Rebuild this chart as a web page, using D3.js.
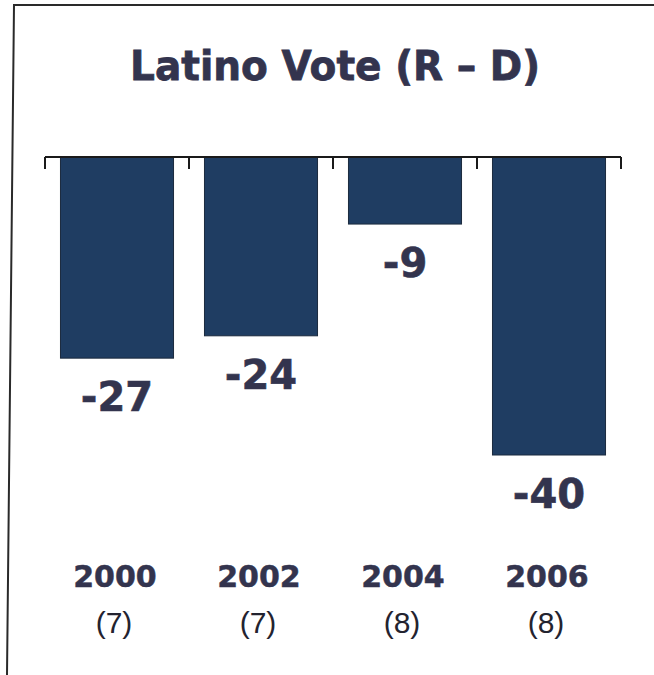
<!DOCTYPE html>
<html>
<head>
<meta charset="utf-8">
<script src="https://cdn.jsdelivr.net/npm/d3@7"></script>
<style>
  html, body { margin: 0; padding: 0; background: #ffffff; }
  svg { display: block; }
</style>
</head>
<body>
<svg id="chart" width="654" height="675"></svg>
<script>
// ---- data ----
const years = ["2000", "2002", "2004", "2006"];
const values = [-27, -24, -9, -40];
const counts = ["(7)", "(7)", "(8)", "(8)"];
const title = "Latino Vote (R \u2013 D)";

const W = 654, H = 675;
const svg = d3.select("#chart");
const barColor = "#1f3d62";
const textColor = "#33344e";

// frame (scanned page border)
svg.append("path")
  .attr("d", "M654,5 L14,5 L7,675")
  .attr("fill", "none")
  .attr("stroke", "#2a2a2a")
  .attr("stroke-width", 2);

// scales
const x = d3.scaleBand().domain(years).range([45, 621]).paddingInner(0.215).paddingOuter(0.1075);
const y = d3.scaleLinear().domain([0, -40]).range([157, 455]);

// title
svg.append("text")
  .attr("x", 335).attr("y", 80)
  .attr("text-anchor", "middle")
  .attr("font-family", "DejaVu Sans, Verdana, sans-serif")
  .attr("font-weight", "bold")
  .attr("font-size", 41)
  .attr("textLength", 410)
  .attr("lengthAdjust", "spacingAndGlyphs")
  .attr("fill", textColor)
  .attr("stroke", textColor)
  .attr("stroke-width", 0.8)
  .text(title);

const data = years.map((yr, i) => ({ year: yr, value: values[i], count: counts[i] }));

// bars
svg.append("g").selectAll("rect").data(data).join("rect")
  .attr("x", d => x(d.year))
  .attr("width", x.bandwidth())
  .attr("y", y(0))
  .attr("height", d => y(d.value) - y(0))
  .attr("fill", barColor)
  .attr("stroke", "#1b2a3e")
  .attr("stroke-width", 1);

// axis line at zero with boundary ticks
const axisG = svg.append("g").attr("stroke", "#1a1a1a").attr("stroke-width", 2);
axisG.append("line")
  .attr("x1", x.range()[0]).attr("x2", x.range()[1])
  .attr("y1", y(0)).attr("y2", y(0));
const bounds = d3.range(years.length + 1).map(i => x.range()[0] + i * x.step());
axisG.selectAll("line.tick").data(bounds).join("line")
  .attr("class", "tick")
  .attr("x1", d => d).attr("x2", d => d)
  .attr("y1", y(0)).attr("y2", y(0) + 12);

// value labels under bars
svg.append("g").selectAll("text").data(data).join("text")
  .attr("x", d => x(d.year) + x.bandwidth() / 2)
  .attr("y", d => y(d.value) + 53)
  .attr("text-anchor", "middle")
  .attr("font-family", "DejaVu Sans, Verdana, sans-serif")
  .attr("font-weight", "bold")
  .attr("font-size", 40)
  .attr("fill", textColor)
  .attr("stroke", textColor)
  .attr("stroke-width", 0.6)
  .text(d => d.value);

// year labels
svg.append("g").selectAll("text").data(data).join("text")
  .attr("x", d => x(d.year) + x.bandwidth() / 2 - 2)
  .attr("y", 587)
  .attr("text-anchor", "middle")
  .attr("font-family", "DejaVu Sans, Verdana, sans-serif")
  .attr("font-weight", "bold")
  .attr("font-size", 30)
  .attr("fill", textColor)
  .attr("stroke", textColor)
  .attr("stroke-width", 0.5)
  .text(d => d.year);

// count labels
svg.append("g").selectAll("text").data(data).join("text")
  .attr("x", d => x(d.year) + x.bandwidth() / 2 - 3)
  .attr("y", 633)
  .attr("text-anchor", "middle")
  .attr("font-family", "Liberation Sans, Arial, sans-serif")
  .attr("font-size", 30)
  .attr("fill", "#23232f")
  .text(d => d.count);
</script>
</body>
</html>
